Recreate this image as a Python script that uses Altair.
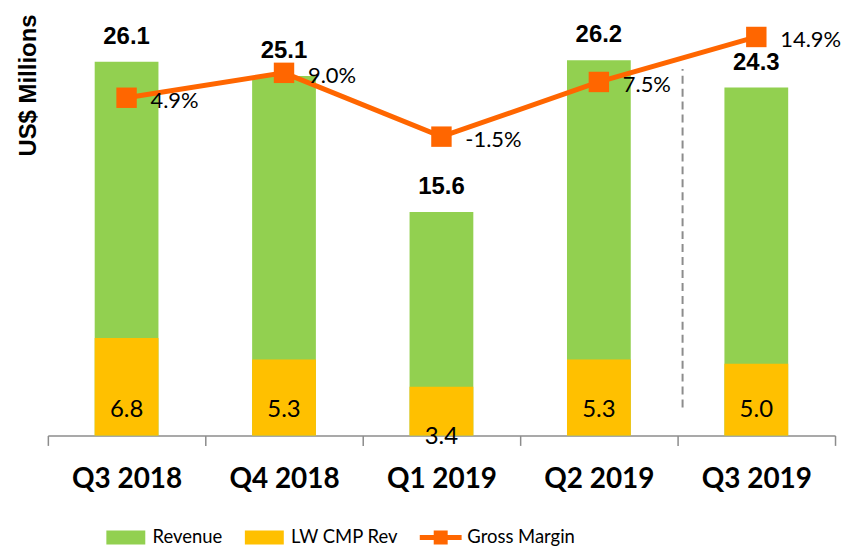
import altair as alt
import pandas as pd

quarters = ["Q3 2018", "Q4 2018", "Q1 2019", "Q2 2019", "Q3 2019"]
revenue = [26.1, 25.1, 15.6, 26.2, 24.3]
lw_cmp_rev = [6.8, 5.3, 3.4, 5.3, 5.0]
gross_margin = [4.9, 9.0, -1.5, 7.5, 14.9]
series_names = ["Revenue", "LW CMP Rev", "Gross Margin"]
series_colors = ["#92D050", "#FFC000", "#FF6600"]
sep_quarter = ["Q3 2019"]
sep_low = [1.95]
sep_high = [25.6]

rev_df = pd.DataFrame({"quarter": quarters, "value": revenue, "series": "Revenue",
                       "label": [f"{v:.1f}" for v in revenue]})
lw_df = pd.DataFrame({"quarter": quarters, "value": lw_cmp_rev, "series": "LW CMP Rev",
                      "label": [f"{v:.1f}" for v in lw_cmp_rev]})
gm_df = pd.DataFrame({"quarter": quarters, "gm": gross_margin,
                      "label": [f"{v:.1f}%" for v in gross_margin]})
sep_df = pd.DataFrame({"quarter": sep_quarter, "low": sep_low, "high": sep_high})
legend_df = pd.DataFrame({"series": series_names, "quarter": quarters[0], "value": 0.0})

X = alt.X("quarter:N", sort=quarters,
          scale=alt.Scale(paddingInner=0, paddingOuter=0),
          axis=alt.Axis(title=None, tickBand="extent", labelAngle=0,
                        labelFont="Lato", labelFontWeight="bold", labelFontSize=28,
                        labelColor="#000000", labelPadding=20, tickSize=10,
                        tickColor="#8C8C8C", tickWidth=1.5, domainColor="#8C8C8C",
                        domainWidth=1.5, grid=False))

Y1 = alt.Y("value:Q", scale=alt.Scale(domain=[0, 28.95], nice=False, zero=False),
           axis=alt.Axis(title="US$ Millions", labels=False, ticks=False, domain=False,
                         grid=False, titleFont="Liberation Sans", titleFontSize=24,
                         titleFontWeight="bold", titleColor="#000000", titlePadding=7,
                         titleAnchor="end", titleAlign="right", titleY=-7))

rect_path = "M-2.79,-1H2.79V1H-2.79Z"
gm_path = "M-3,-0.36H-1V-1H1V-0.36H3V0.36H1V1H-1V0.36H-3Z"

legend = alt.Legend(
    title=None, orient="none", direction="horizontal",
    legendX=69, legendY=509, padding=0,
    labelFont="Lato", labelFontSize=18.5, labelColor="#000000",
    labelOffset=17.5, columnPadding=21, symbolSize=196,
    symbolStrokeWidth=0, symbolOpacity=1)

color_scale = alt.Scale(domain=series_names, range=series_colors)
color = alt.Color("series:N", scale=color_scale, legend=legend)
shape = alt.Shape("series:N", scale=alt.Scale(domain=series_names,
                                              range=[rect_path, rect_path, gm_path]),
                  legend=legend)

rev_bars = alt.Chart(rev_df).mark_bar(width={"band": 0.405}).encode(x=X, y=Y1, color=color)
lw_bars = alt.Chart(lw_df).mark_bar(width={"band": 0.405}).encode(x=X, y="value:Q", color=color)

legend_pts = alt.Chart(legend_df).mark_point(filled=True, size=0).encode(
    x=X, y="value:Q", color=color, shape=shape)

rev_text = alt.Chart(rev_df).mark_text(
    font="Liberation Sans", fontWeight="bold", fontSize=24, color="#000000",
    baseline="middle", dy=-25).encode(x=X, y="value:Q", text="label:N")

lw_text_main = alt.Chart(lw_df).transform_filter(
    alt.datum.quarter != "Q1 2019").transform_calculate(base="0").mark_text(
    font="Lato", fontSize=24, color="#000000", baseline="middle", dy=-25
).encode(x=X, y="base:Q", text="label:N")
lw_text_low = alt.Chart(lw_df).transform_filter(
    alt.datum.quarter == "Q1 2019").transform_calculate(base="0").mark_text(
    font="Lato", fontSize=24, color="#000000", baseline="middle", dy=2
).encode(x=X, y="base:Q", text="label:N")

sep = alt.Chart(sep_df).mark_rule(color="#8C8C8C", strokeWidth=2, strokeDash=[8, 5],
                                  xOffset=5).encode(
    x=alt.X("quarter:N", sort=quarters, bandPosition=0), y="low:Q", y2="high:Q")

left = alt.layer(rev_bars, lw_bars, legend_pts, rev_text, lw_text_main, lw_text_low, sep)

Y2 = alt.Y("gm:Q", scale=alt.Scale(domain=[-50.66, 17.54], nice=False, zero=False), axis=None)

gm_line = alt.Chart(gm_df).mark_line(color="#FF6600", strokeWidth=5).encode(x=X, y=Y2)
gm_pts = alt.Chart(gm_df).mark_point(shape="square", filled=True, size=420, opacity=1,
                                     color="#FF6600").encode(x=X, y="gm:Q")
gm_text = alt.Chart(gm_df).mark_text(font="Lato", fontSize=22, color="#000000",
                                     align="left", baseline="middle", dx=24, dy=3).encode(
    x=X, y="gm:Q", text="label:N")
right = alt.layer(gm_line, gm_pts, gm_text)

chart = alt.layer(left, right).resolve_scale(y="independent").properties(
    width=790, height=416,
    padding={"left": 8, "top": 4, "right": 0, "bottom": 0}
).configure_view(stroke=None)

chart.save("out.html", embed_options={"renderer": "svg", "actions": False})
